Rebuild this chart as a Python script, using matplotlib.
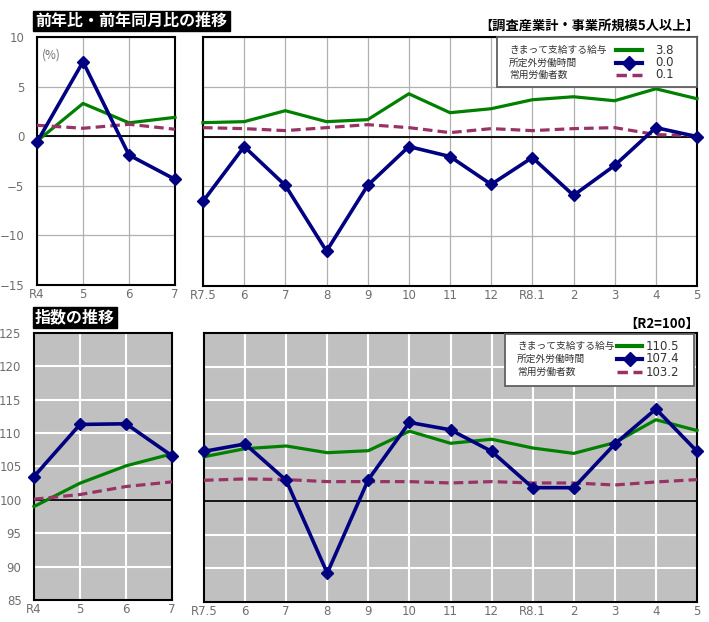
import matplotlib
matplotlib.use("Agg")
import matplotlib.pyplot as plt
from matplotlib.lines import Line2D
from matplotlib.patches import Rectangle

plt.rcParams['font.family'] = ['Noto Sans CJK JP', 'DejaVu Sans']

# ---- data ----
left_labels = ["R4", "5", "6", "7"]
right_labels = ["R7.5", "6", "7", "8", "9", "10", "11", "12", "R8.1", "2", "3", "4", "5"]
series_names = ["きまって支給する給与", "所定外労働時間", "常用労働者数"]

# year-on-year (%)
yoy_left_wage = [-0.5, 3.3, 1.35, 1.9]
yoy_left_hours = [-0.6, 7.5, -1.9, -4.35]
yoy_left_emp = [1.1, 0.8, 1.2, 0.7]
yoy_right_wage = [1.4, 1.5, 2.6, 1.5, 1.7, 4.3, 2.4, 2.8, 3.7, 4.0, 3.6, 4.8, 3.8]
yoy_right_hours = [-6.5, -1.0, -4.9, -11.5, -4.9, -1.0, -2.0, -4.8, -2.1, -5.9, -2.9, 0.9, 0.0]
yoy_right_emp = [0.9, 0.8, 0.6, 0.9, 1.2, 0.9, 0.4, 0.8, 0.6, 0.8, 0.9, 0.2, 0.1]
yoy_latest = ["3.8", "0.0", "0.1"]

# index (R2=100)
idx_left_wage = [99.0, 102.5, 105.1, 106.9]
idx_left_hours = [103.5, 111.3, 111.4, 106.6]
idx_left_emp = [100.1, 100.8, 102.0, 102.7]
idx_right_wage = [106.6, 107.8, 108.2, 107.2, 107.5, 110.4, 108.6, 109.2, 107.9, 107.1, 108.7, 112.1, 110.5]
idx_right_hours = [107.4, 108.5, 103.1, 89.3, 103.2, 111.7, 110.6, 107.4, 102.0, 102.0, 108.5, 113.7, 107.4]
idx_right_emp = [103.1, 103.3, 103.2, 102.9, 102.9, 102.9, 102.7, 102.9, 102.7, 102.7, 102.4, 102.85, 103.2]
idx_latest = ["110.5", "107.4", "103.2"]

C_WAGE = "#008000"
C_HOURS = "#000080"
C_EMP = "#993366"
TICK_C = "#6e6e6e"

W, H = 709, 622
fig = plt.figure(figsize=(W / 100, H / 100), dpi=100)
FT = fig.transFigure


def box(x0, y0, x1, y1):
    return [x0 / W, 1 - y1 / H, (x1 - x0) / W, (y1 - y0) / H]


def fx(x):
    return x / W


def fy(y):
    return 1 - y / H


def style(ax, labels, ylim, yticks, bg, gridc, gridw, refy, show_y):
    ax.set_facecolor(bg)
    ax.set_xlim(0, len(labels) - 1)
    ax.set_ylim(*ylim)
    ax.set_xticks(range(len(labels)))
    ax.set_xticklabels(labels)
    ax.set_yticks(yticks)
    if not show_y:
        ax.set_yticklabels([])
    ax.tick_params(length=0, colors=TICK_C, labelsize=8.5)
    ax.tick_params(axis="y", pad=9)
    ax.tick_params(axis="x", pad=2)
    for t in ax.get_xticklabels() + ax.get_yticklabels():
        t.set_family(["DejaVu Sans"])
    ax.grid(True, color=gridc, linewidth=gridw)
    ax.set_axisbelow(True)
    ax.axhline(refy, color="black", linewidth=1.3, zorder=2)
    for s in ax.spines.values():
        s.set_linewidth(1.5)
        s.set_color("black")


def draw(ax, wage, hours, emp):
    x = range(len(wage))
    ax.plot(x, wage, color=C_WAGE, lw=2.3, zorder=3, clip_on=False)
    ax.plot(x, hours, color=C_HOURS, lw=2.6, marker="D", ms=6.5, zorder=4, clip_on=False)
    ax.plot(x, emp, color=C_EMP, lw=2.3, ls=(0, (3, 1.6)), zorder=3, clip_on=False)


def legend(bx0, by0, bx1, by1, rows, name_x, hx0, hx1, val_x, values):
    fig.add_artist(Rectangle((fx(bx0), fy(by1)), fx(bx1) - fx(bx0), fy(by0) - fy(by1),
                             transform=FT, facecolor="white", edgecolor="#606060",
                             linewidth=1.3, zorder=20))
    styles = [dict(color=C_WAGE, lw=3.0),
              dict(color=C_HOURS, lw=3.0, marker="D", ms=7, markevery=[1]),
              dict(color=C_EMP, lw=2.5, ls=(0, (3, 1.6)))]
    for name, yy, st, val in zip(series_names, rows, styles, values):
        fig.text(fx(name_x), fy(yy), name, transform=FT, ha="left", va="center",
                 fontsize=7, color="#333333", zorder=21)
        xm = (hx0 + hx1) / 2
        fig.add_artist(Line2D([fx(hx0), fx(xm), fx(hx1)], [fy(yy)] * 3, transform=FT,
                              zorder=21, **st))
        fig.text(fx(val_x), fy(yy), val, transform=FT, ha="left", va="center",
                 fontsize=8.5, color="#333333", family=["DejaVu Sans"], zorder=21)


# top panels
ax1 = fig.add_axes(box(37, 37, 175, 285))
style(ax1, left_labels, (-15, 10), range(-15, 11, 5), "white", "#b0b0b0", 0.9, 0, True)
draw(ax1, yoy_left_wage, yoy_left_hours, yoy_left_emp)
ax1.text(0.035, 0.955, "(%)", transform=ax1.transAxes, ha="left", va="top", fontsize=8.5,
         color=TICK_C)

ax2 = fig.add_axes(box(203, 37, 697, 286))
style(ax2, right_labels, (-15, 10), range(-15, 11, 5), "white", "#b0b0b0", 0.9, 0, False)
draw(ax2, yoy_right_wage, yoy_right_hours, yoy_right_emp)
legend(497, 37, 697, 87, [50, 62.5, 75], 509, 616, 642, 655, yoy_latest)

# bottom panels
ax3 = fig.add_axes(box(34, 333, 172, 600))
style(ax3, left_labels, (85, 125), range(85, 126, 5), "#c0c0c0", "white", 1.5, 100, True)
draw(ax3, idx_left_wage, idx_left_hours, idx_left_emp)

ax4 = fig.add_axes(box(204, 333, 697, 602))
style(ax4, right_labels, (85, 125), range(85, 126, 5), "#c0c0c0", "white", 1.5, 100, False)
draw(ax4, idx_right_wage, idx_right_hours, idx_right_emp)
legend(505, 334, 694, 386, [346, 359, 372], 517, 617, 642, 646, idx_latest)

# titles
fig.text(35 / W, 1 - 21 / H, "前年比・前年同月比の推移", ha="left", va="center", color="white",
         fontsize=11.5, fontweight="bold",
         bbox=dict(facecolor="black", edgecolor="black", boxstyle="square,pad=0.15"))
fig.text(35 / W, 1 - 317.5 / H, "指数の推移", ha="left", va="center", color="white",
         fontsize=11.5, fontweight="bold",
         bbox=dict(facecolor="black", edgecolor="black", boxstyle="square,pad=0.15"))
fig.text(699 / W, 1 - 26 / H, "【調査産業計・事業所規模5人以上】", ha="right", va="center",
         fontsize=9.5, fontweight="bold", color="black")
fig.text(699 / W, 1 - 324 / H, "【R2=100】", ha="right", va="center",
         fontsize=9.5, fontweight="bold", color="black")

fig.savefig("out.png", dpi=100)
